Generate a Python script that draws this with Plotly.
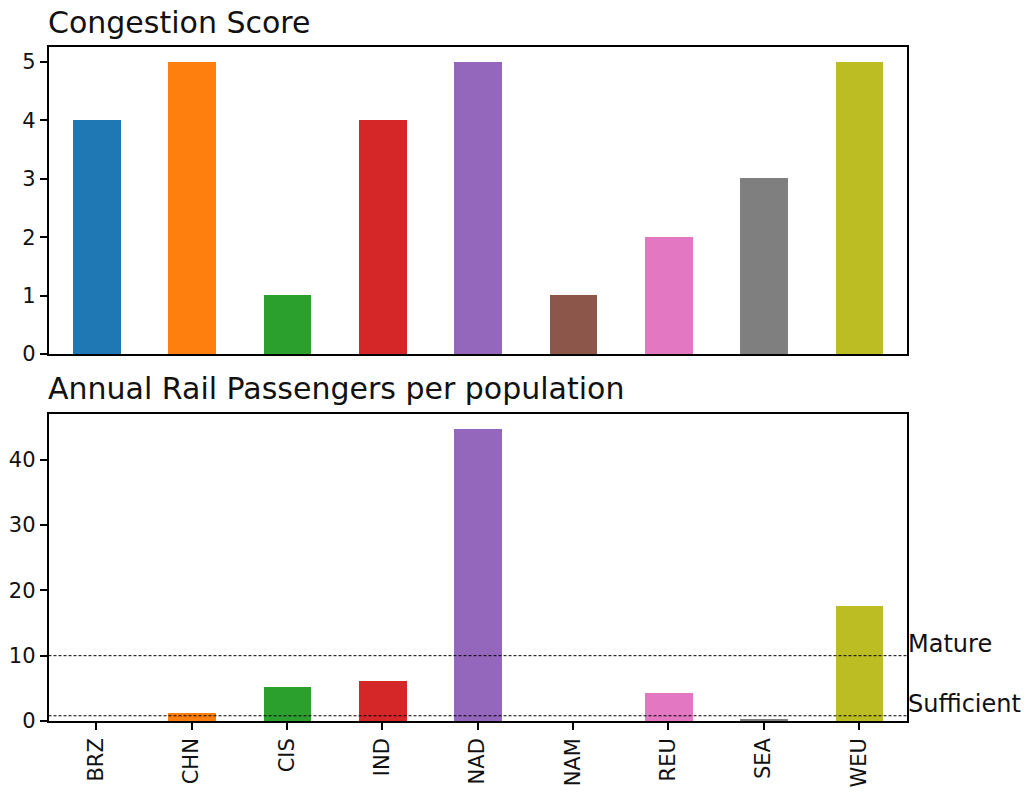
import plotly.graph_objects as go

regions = ["BRZ", "CHN", "CIS", "IND", "NAD", "NAM", "REU", "SEA", "WEU"]
congestion = [4, 5, 1, 4, 5, 1, 2, 3, 5]
rail_passengers = [0, 1.2, 5.15, 6.2, 44.7, 0, 4.3, 0.3, 17.65]
colors = ["#1f77b4", "#ff7f0e", "#2ca02c", "#d62728", "#9467bd",
          "#8c564b", "#e377c2", "#7f7f7f", "#bcbd22"]
thresholds = [10, 0.8]
threshold_labels = ["Mature", "Sufficient"]
titles = ["Congestion Score", "Annual Rail Passengers per population"]

W, H = 1032, 802
HE = 790.0  # effective rendered height used for placing domains
FONT = "DejaVu Sans"
TXT = "#111111"

fig = go.Figure()
fig.add_trace(go.Bar(x=regions, y=congestion, marker_color=colors, width=0.5,
                     marker_line_width=0, xaxis="x", yaxis="y", showlegend=False))
fig.add_trace(go.Bar(x=regions, y=rail_passengers, marker_color=colors, width=0.5,
                     marker_line_width=0, xaxis="x2", yaxis="y2", showlegend=False))

xl, xr = 48.5 / W, 906.5 / W
top_dom = [1 - 354 / HE, 1 - 47.3 / HE]
bot_dom = [1 - 721 / HE, 1 - 414 / HE]

axis_common = dict(showline=True, mirror=True, linecolor="black", linewidth=1.5,
                   showgrid=False, zeroline=False,
                   tickfont=dict(family=FONT, size=21, color=TXT))

fig.update_layout(
    width=W, height=H,
    margin=dict(l=0, r=0, t=0, b=0),
    paper_bgcolor="white", plot_bgcolor="white",
    bargap=0,
    xaxis=dict(domain=[xl, xr], anchor="y", type="category",
               categoryorder="array", categoryarray=regions,
               range=[-0.5, 8.5], showticklabels=False, ticks="", **axis_common),
    yaxis=dict(domain=top_dom, anchor="x", range=[0, 5.25],
               tickvals=[0, 1, 2, 3, 4, 5], ticks="outside", ticklen=7,
               tickcolor="black", tickwidth=1.5, **axis_common),
    xaxis2=dict(domain=[xl, xr], anchor="y2", type="category",
                categoryorder="array", categoryarray=regions,
                range=[-0.5, 8.5], tickangle=-90, ticks="outside", ticklen=7,
                tickcolor="black", tickwidth=1.5, **axis_common),
    yaxis2=dict(domain=bot_dom, anchor="x2", range=[0, 47.0],
                tickvals=[0, 10, 20, 30, 40], ticks="outside", ticklen=7,
                tickcolor="black", tickwidth=1.5, **axis_common),
)

# titles
fig.add_annotation(text=titles[0], xref="paper", yref="paper",
                   x=46 / W, y=1 - 22 / HE, xanchor="left", yanchor="middle",
                   showarrow=False, font=dict(family=FONT, size=30, color=TXT))
fig.add_annotation(text=titles[1], xref="paper", yref="paper",
                   x=46 / W, y=1 - 389 / HE, xanchor="left", yanchor="middle",
                   showarrow=False, font=dict(family=FONT, size=30, color=TXT))

# threshold lines and labels
for val, lab in zip(thresholds, threshold_labels):
    fig.add_shape(type="line", xref="x2 domain", yref="y2", x0=0, x1=1,
                  y0=val, y1=val, line=dict(color="black", width=1, dash="3px,2px"))
    fig.add_annotation(text=lab, xref="paper", yref="y2", x=906 / W, y=val,
                       xanchor="left", yanchor="bottom", showarrow=False,
                       yshift=-4,
                       font=dict(family=FONT, size=24, color=TXT))

fig.write_html("out.html")
